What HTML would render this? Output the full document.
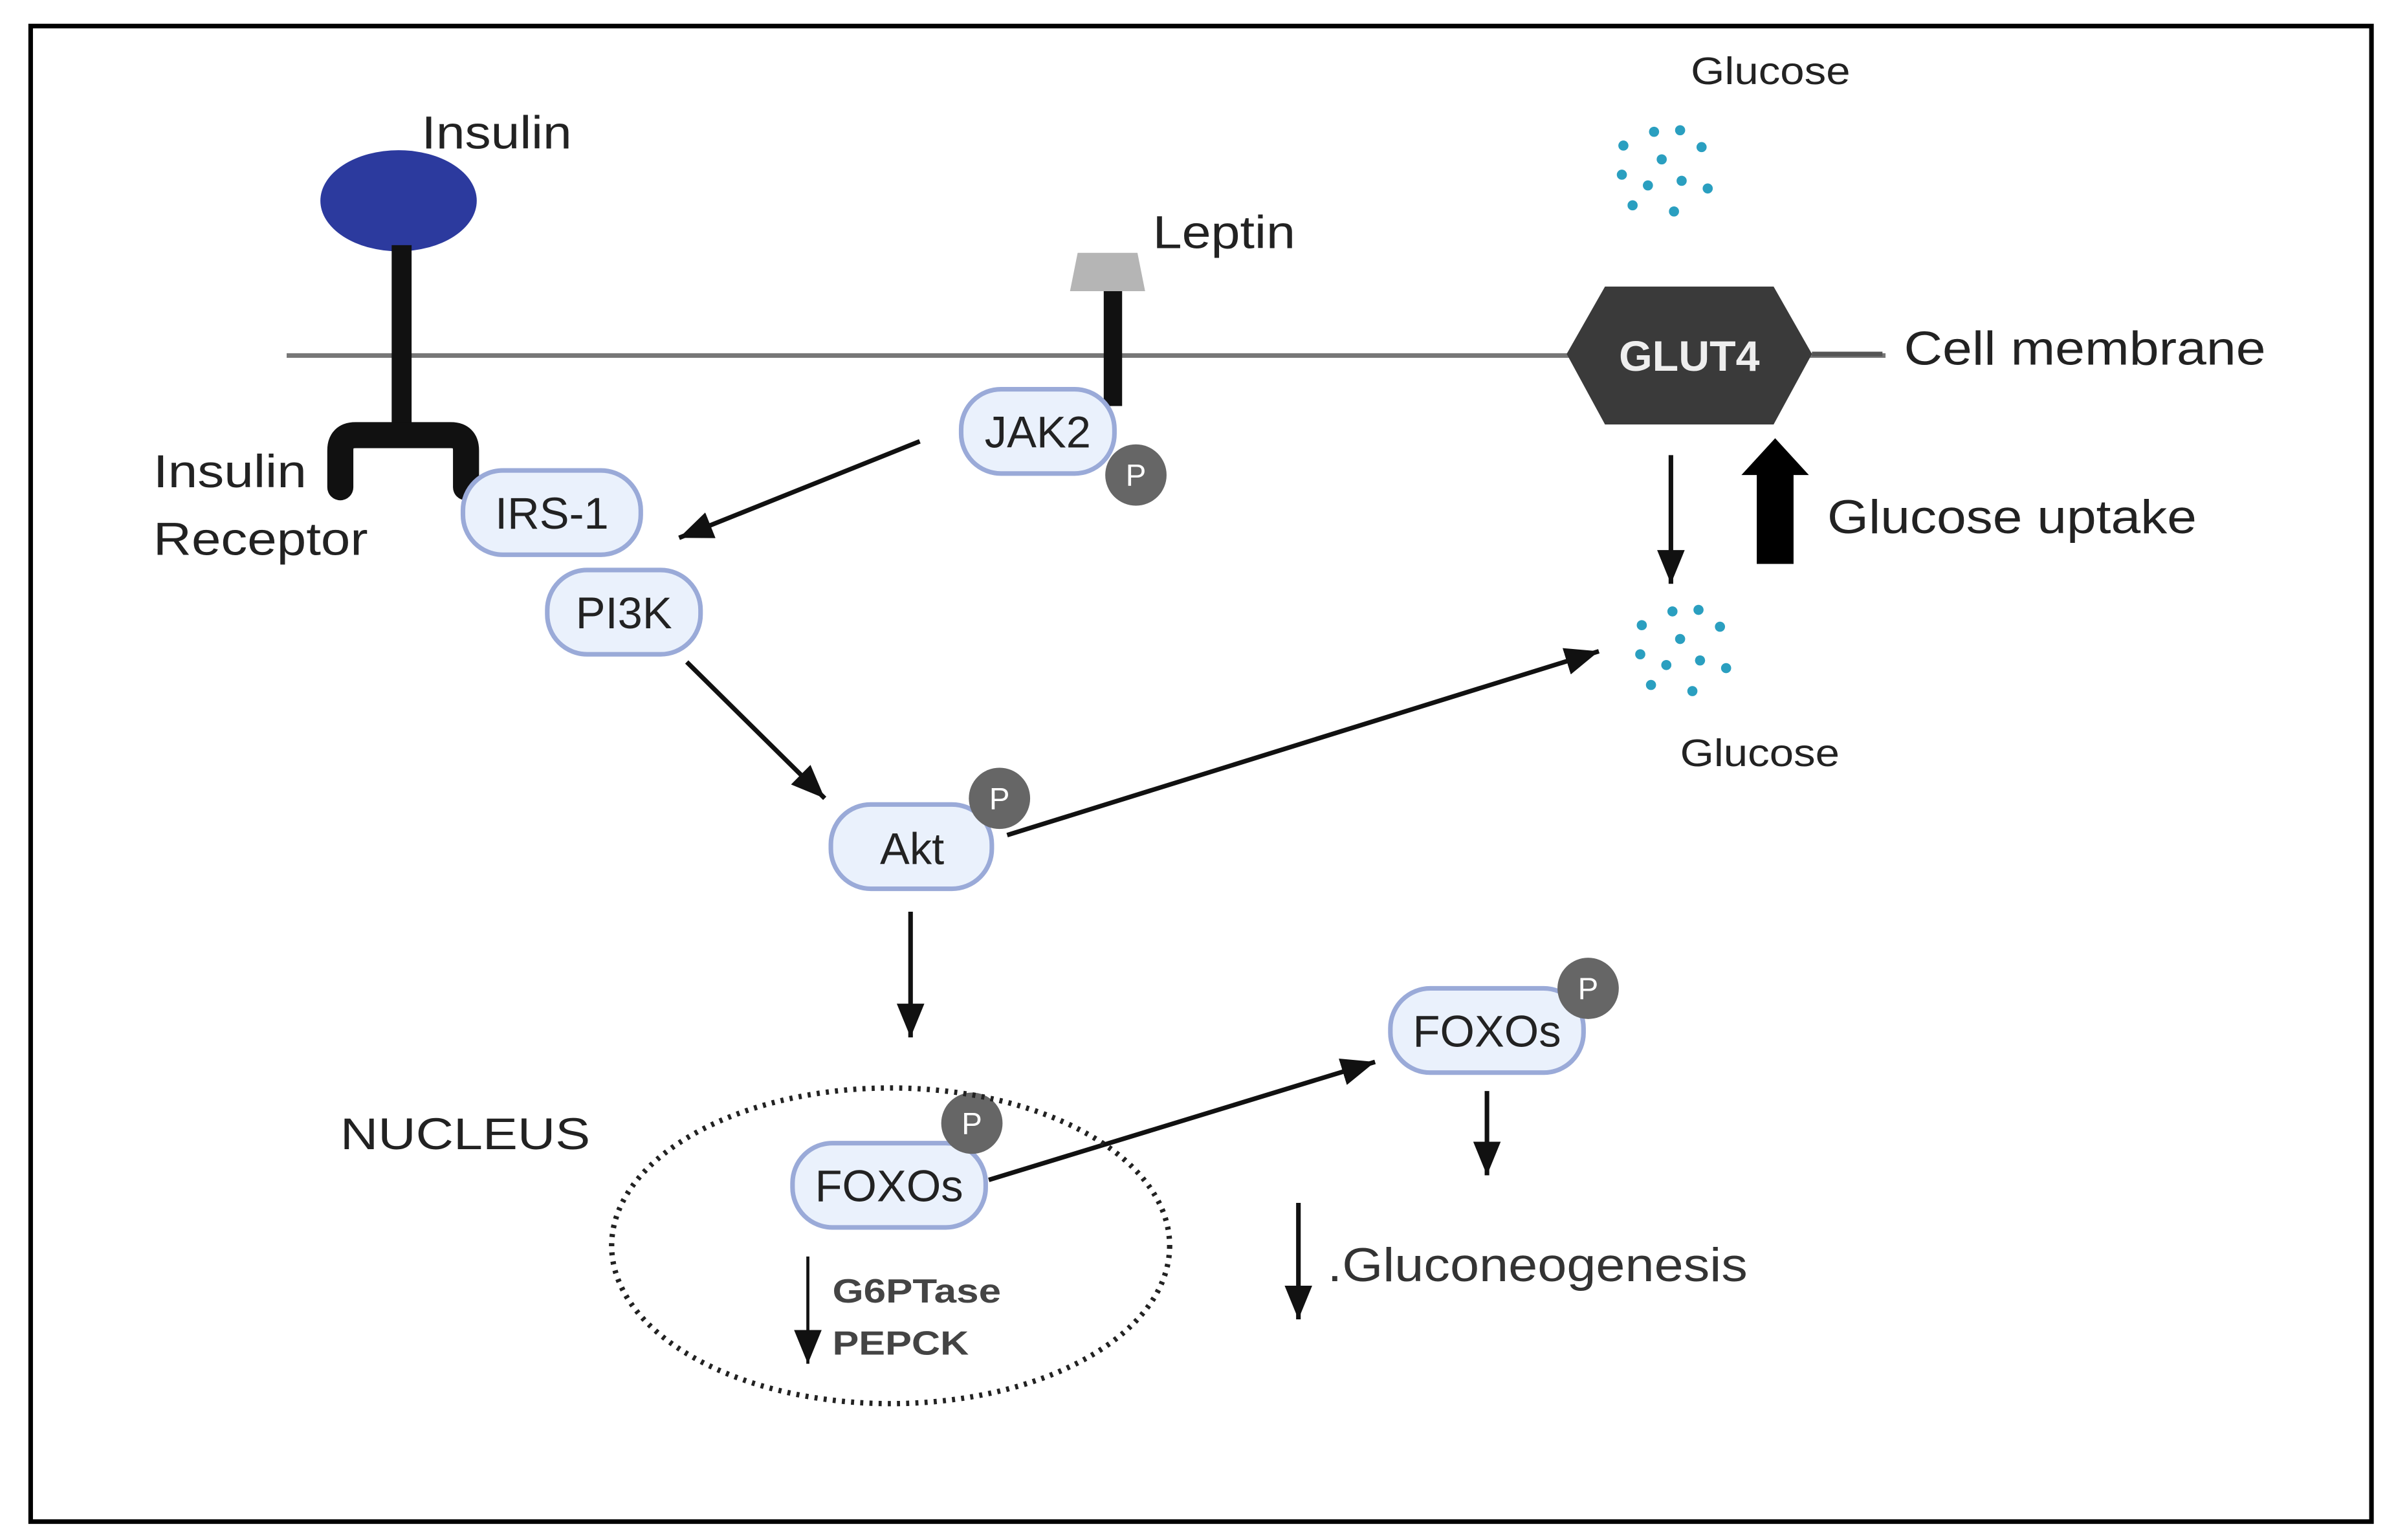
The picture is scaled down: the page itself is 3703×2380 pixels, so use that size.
<!DOCTYPE html>
<html><head><meta charset="utf-8"><style>
html,body{margin:0;padding:0;background:#fff;}
svg{display:block;}
text{font-family:"Liberation Sans",sans-serif;}
</style></head><body>
<svg width="3703" height="2380" viewBox="0 0 1563 1005" preserveAspectRatio="none" xmlns="http://www.w3.org/2000/svg">
<defs>
<marker id="a2" viewBox="0 0 10 10" refX="10" refY="5" markerWidth="22" markerHeight="18" orient="auto" markerUnits="userSpaceOnUse" preserveAspectRatio="none">
<path d="M0,0 L10,5 L0,10 z" fill="#111"/>
</marker>
<g id="dots" fill="#2a9fc0">
<circle cx="-6" cy="-26" r="3.3"/><circle cx="11" cy="-27" r="3.3"/><circle cx="-26" cy="-17" r="3.3"/><circle cx="25" cy="-16" r="3.3"/><circle cx="-1" cy="-8" r="3.3"/><circle cx="-27" cy="2" r="3.3"/><circle cx="-10" cy="9" r="3.3"/><circle cx="12" cy="6" r="3.3"/><circle cx="29" cy="11" r="3.3"/><circle cx="-20" cy="22" r="3.3"/><circle cx="7" cy="26" r="3.3"/>
</g>
</defs>
<rect x="20" y="17" width="1527" height="976" fill="#fff" stroke="#000" stroke-width="3"/>
<line x1="187" y1="232" x2="1230" y2="232" stroke="#777" stroke-width="3"/>
<!-- insulin -->
<ellipse cx="260" cy="131" rx="51" ry="33" fill="#2c3a9e"/>
<line x1="262" y1="160" x2="262" y2="290" stroke="#111" stroke-width="13"/>
<path d="M222,318 L222,294 Q222,284 232,284 L294,284 Q304,284 304,294 L304,318" fill="none" stroke="#111" stroke-width="17" stroke-linecap="round"/>
<text x="275" y="97" font-size="30" fill="#222" textLength="98" lengthAdjust="spacingAndGlyphs">Insulin</text>
<text x="100" y="318" font-size="30" fill="#222" textLength="100" lengthAdjust="spacingAndGlyphs">Insulin</text>
<text x="100" y="362" font-size="30" fill="#222" textLength="140" lengthAdjust="spacingAndGlyphs">Receptor</text>
<!-- leptin -->
<path d="M703,165 L742,165 L747,190 L698,190 z" fill="#b5b5b5"/>
<line x1="726" y1="190" x2="726" y2="265" stroke="#111" stroke-width="12"/>
<text x="752" y="162" font-size="30" fill="#222" textLength="93" lengthAdjust="spacingAndGlyphs">Leptin</text>
<!-- pills -->
<g stroke="#9aaad8" stroke-width="3" fill="#eaf1fc">
<rect x="627" y="254" width="100" height="55" rx="26"/>
<rect x="302" y="307" width="116" height="55" rx="26"/>
<rect x="357" y="372" width="100" height="55" rx="26"/>
<rect x="542" y="525" width="105" height="55" rx="26"/>
<rect x="517" y="746" width="126" height="55" rx="26"/>
<rect x="907" y="645" width="126" height="55" rx="26"/>
</g>
<g font-size="29" fill="#222" text-anchor="middle">
<text x="677" y="292">JAK2</text>
<text x="360" y="345">IRS-1</text>
<text x="407" y="410">PI3K</text>
<text x="595" y="564">Akt</text>
<text x="580" y="784">FOXOs</text>
<text x="970" y="683">FOXOs</text>
</g>
<g fill="#666">
<circle cx="741" cy="310" r="20"/><circle cx="652" cy="521" r="20"/><circle cx="634" cy="733" r="20"/><circle cx="1036" cy="645" r="20"/>
</g>
<g fill="#fff" font-size="20" text-anchor="middle">
<text x="741" y="317">P</text><text x="652" y="528">P</text><text x="634" y="740">P</text><text x="1036" y="652">P</text>
</g>
<g stroke="#111" stroke-width="3" fill="none" marker-end="url(#a2)">
<line x1="600" y1="288" x2="443" y2="351"/>
<line x1="448" y1="432" x2="538" y2="521"/>
<line x1="657" y1="545" x2="1043" y2="425"/>
<line x1="594" y1="595" x2="594" y2="677"/>
<line x1="645" y1="770" x2="897" y2="693"/>
<line x1="970" y1="712" x2="970" y2="767"/>
<line x1="847" y1="785" x2="847" y2="861"/>
<line x1="1090" y1="297" x2="1090" y2="381"/>
</g>
<line x1="527" y1="820" x2="527" y2="890" stroke="#111" stroke-width="2" marker-end="url(#a2)"/>
<ellipse cx="581" cy="813" rx="182" ry="103" fill="none" stroke="#222" stroke-width="3.5" stroke-dasharray="2 4"/>
<text x="222" y="750" font-size="29" fill="#222" textLength="163" lengthAdjust="spacingAndGlyphs">NUCLEUS</text>
<text x="543" y="850" font-size="22" fill="#444" font-weight="bold" textLength="110" lengthAdjust="spacingAndGlyphs">G6PTase</text>
<text x="543" y="884" font-size="22" fill="#444" font-weight="bold" textLength="89" lengthAdjust="spacingAndGlyphs">PEPCK</text>
<text x="866" y="836" font-size="31" fill="#333" textLength="274" lengthAdjust="spacingAndGlyphs">.Gluconeogenesis</text>
<polygon points="1022,231 1047,187 1157,187 1182,231 1157,277 1047,277" fill="#3a3a3a"/>
<text x="1102" y="242" font-size="28" font-weight="bold" fill="#eee" text-anchor="middle">GLUT4</text>
<line x1="1182" y1="231" x2="1228" y2="231" stroke="#555" stroke-width="3"/>
<text x="1242" y="238" font-size="31" fill="#222" textLength="236" lengthAdjust="spacingAndGlyphs">Cell membrane</text>
<polygon points="1146,368 1170,368 1170,310 1180,310 1158,286 1136,310 1146,310" fill="#000"/>
<text x="1192" y="348" font-size="31" fill="#222" textLength="241" lengthAdjust="spacingAndGlyphs">Glucose uptake</text>
<text x="1103" y="55" font-size="25" fill="#222" textLength="104" lengthAdjust="spacingAndGlyphs">Glucose</text>
<use href="#dots" x="1085" y="112"/>
<use href="#dots" x="1097" y="425"/>
<text x="1096" y="500" font-size="25" fill="#222" textLength="104" lengthAdjust="spacingAndGlyphs">Glucose</text>
</svg>
</body></html>
